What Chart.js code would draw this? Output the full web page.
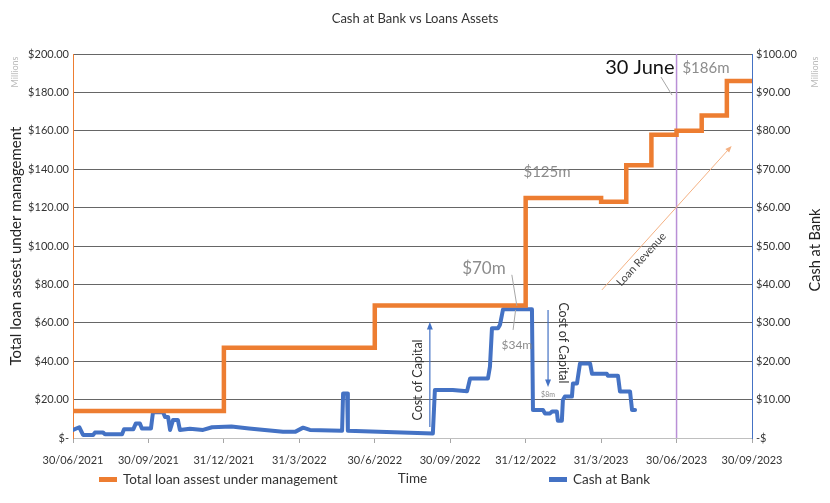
<!DOCTYPE html>
<html>
<head>
<meta charset="utf-8">
<script src="https://cdn.jsdelivr.net/npm/chart.js@4.4.1/dist/chart.umd.min.js"></script>
<style>
  html, body { margin: 0; padding: 0; background: #fff; }
  #wrap { position: relative; width: 830px; height: 503px; }
  #legend { position: absolute; left: 0; top: 470px; width: 830px; height: 18px; font: 13.5px Lato, sans-serif; color: #333; }
  #legend .item { position: absolute; top: 0; white-space: nowrap; line-height: 18px; }
  #legend i { display: inline-block; width: 18px; height: 5px; margin-right: 6px; vertical-align: middle; position: relative; top: -1px; }
</style>
</head>
<body>
<div id="wrap">
  <canvas id="cash-loans-chart" width="830" height="503"></canvas>
  <div id="legend"></div>
</div>
<script>
const quarterLabels = ['30/06/2021', '30/09/2021', '31/12/2021', '31/3/2022', '30/6/2022',
  '30/09/2022', '31/12/2022', '31/3/2023', '30/06/2023', '30/09/2023']

// months after 30/06/2021 where the loan book steps up, and the new level ($m)
const loanMonths = [0, 6, 12, 18, 21, 22, 23, 24, 25, 26, 27]
const loanValues = [14, 47, 69, 125, 123, 142, 158, 160, 168, 186, 186]

// cash at bank ($m)
const cashMonths = [0, 0.25, 0.4, 0.8, 0.87, 1.2, 1.27, 1.95, 2.03, 2.4, 2.5, 2.66, 2.74, 3.1, 3.18, 3.58,
  3.66, 3.78, 3.86, 3.98, 4.17, 4.25, 4.65, 5.17, 5.53, 6.3, 7.0, 8.35, 8.83, 9.15, 9.42, 10.7,
  10.74, 10.9, 10.93, 14.31, 14.39, 15.1, 15.67, 15.79, 16.5, 16.58, 16.66, 16.9, 16.98, 17.1, 18.25,
  18.29, 18.69, 18.77, 18.97, 19.05, 19.24, 19.28, 19.44, 19.48, 19.56, 19.84, 19.88, 20.04, 20.16,
  20.56, 20.64, 21.23, 21.27, 21.67, 21.75, 22.15, 22.23, 22.35]
const cashValues = [2.1, 2.8, 0.8, 0.8, 1.4, 1.4, 1.0, 1.0, 2.3, 2.3, 3.8, 3.8, 2.5, 2.5, 6.7, 6.7,
  5.5, 5.5, 2.1, 4.7, 4.7, 2.1, 2.4, 2.1, 2.8, 3.0, 2.5, 1.6, 1.6, 2.7, 2.1, 1.9,
  11.6, 11.6, 1.9, 1.2, 12.5, 12.5, 12.2, 15.5, 15.5, 18.6, 28.6, 28.6, 29.5, 33.5, 33.5,
  7.3, 7.3, 6.4, 6.4, 6.9, 6.9, 4.5, 4.5, 9.9, 10.8, 10.8, 14.2, 14.2, 19.4,
  19.4, 16.7, 16.7, 16.2, 16.2, 12.1, 12.1, 7.3, 7.3]

const juneMarker = 24

const orange = '#ED7D31'
const blue = '#4472C4'
const textColor = '#333'

Chart.defaults.font.family = 'Lato'

function toPoints(xs, ys) {
  return ys.map((v, i) => ({ x: xs[i], y: v }))
}

function drawText(ctx, text, x, y, font, color, rot) {
  ctx.save()
  ctx.translate(x, y)
  ctx.rotate(rot || 0)
  ctx.font = font
  ctx.fillStyle = color
  ctx.textAlign = 'center'
  ctx.textBaseline = 'middle'
  ctx.fillText(text, 0, 0)
  ctx.restore()
}

function drawLine(ctx, a, b, color, width) {
  ctx.save()
  ctx.strokeStyle = color
  ctx.lineWidth = width
  ctx.beginPath()
  ctx.moveTo(a.x, a.y)
  ctx.lineTo(b.x, b.y)
  ctx.stroke()
  ctx.restore()
}

function drawArrow(ctx, a, b, color, width, head) {
  const ang = Math.atan2(b.y - a.y, b.x - a.x)
  drawLine(ctx, a, { x: b.x - head * 0.8 * Math.cos(ang), y: b.y - head * 0.8 * Math.sin(ang) }, color, width)
  ctx.save()
  ctx.fillStyle = color
  ctx.beginPath()
  ctx.moveTo(b.x, b.y)
  ctx.lineTo(b.x - head * Math.cos(ang - 0.38), b.y - head * Math.sin(ang - 0.38))
  ctx.lineTo(b.x - head * Math.cos(ang + 0.38), b.y - head * Math.sin(ang + 0.38))
  ctx.closePath()
  ctx.fill()
  ctx.restore()
}

// callouts, positioned in (months, loan $m) units
const notesPlugin = {
  id: 'notes',
  beforeDatasetsDraw(chart) {
    const { ctx, chartArea, scales } = chart
    const px = scales.x.getPixelForValue(juneMarker)
    drawLine(ctx, { x: px, y: chartArea.top }, { x: px, y: chartArea.bottom }, '#b98fd6', 1.5)
  },
  afterDraw(chart) {
    const { ctx, scales } = chart
    const at = (m, v) => ({ x: scales.x.getPixelForValue(m), y: scales.yLoan.getPixelForValue(v) })
    const grey = '#8c8c8c'

    let p = at(16.34, 88.5)
    drawText(ctx, '$70m', p.x, p.y, '17px Lato', grey)
    drawLine(ctx, at(17.45, 85), at(17.65, 68.8), '#a6a6a6', 1)

    p = at(17.65, 48.4)
    drawText(ctx, '$34m', p.x, p.y, '12px Lato', grey)
    drawLine(ctx, at(17.5, 56.3), at(17.6, 66.7), '#a6a6a6', 1)

    p = at(18.85, 138.5)
    drawText(ctx, '$125m', p.x, p.y, '15px Lato', grey)

    p = at(22.54, 193.2)
    drawText(ctx, '30 June', p.x, p.y, '20px Lato', '#111')
    p = at(25.17, 192.7)
    drawText(ctx, '$186m', p.x, p.y, '15px Lato', grey)
    drawLine(ctx, at(23.38, 188), at(23.82, 178.6), '#a6a6a6', 1)

    drawArrow(ctx, at(21.03, 77.1), at(26.19, 152.1), '#f4b183', 1, 7)
    p = at(22.6, 93)
    drawText(ctx, 'Loan Revenue', p.x, p.y, '11px Lato', '#444', -47.9 * Math.PI / 180)

    p = at(13.72, 30.2)
    drawText(ctx, 'Cost of Capital', p.x, p.y, '12.5px Lato', textColor, -Math.PI / 2)
    drawArrow(ctx, at(14.19, 5.7), at(14.19, 60.4), blue, 1.2, 8)

    p = at(19.48, 49.5)
    drawText(ctx, 'Cost of Capital', p.x, p.y, '12.5px Lato', textColor, Math.PI / 2)
    drawArrow(ctx, at(18.89, 66.7), at(18.89, 26.6), blue, 1.2, 8)

    p = at(18.89, 22.4)
    drawText(ctx, '$8m', p.x, p.y, '7px Lato', grey)

    // side captions
    drawText(ctx, 'Millions', 15, 72, '9px Lato', '#bbb', -Math.PI / 2)
    drawText(ctx, 'Millions', 815, 72, '9px Lato', '#bbb', -Math.PI / 2)
    drawText(ctx, 'Cash at Bank', 815, 250, '14.5px Lato', '#222', -Math.PI / 2)
  }
}

const chartConfig = {
  type: 'line',
  data: {
    datasets: [{
      label: 'Total loan assest under management',
      data: toPoints(loanMonths, loanValues),
      borderColor: orange,
      backgroundColor: orange,
      borderWidth: 4.5,
      stepped: 'before',
      pointRadius: 0,
      yAxisID: 'yLoan'
    },
    {
      label: 'Cash at Bank',
      data: toPoints(cashMonths, cashValues),
      borderColor: blue,
      backgroundColor: blue,
      borderWidth: 4,
      borderJoinStyle: 'round',
      borderCapStyle: 'round',
      pointRadius: 0,
      yAxisID: 'yCash'
    }]
  },
  options: {
    responsive: false,
    animation: false,
    layout: { padding: 0 },
    plugins: {
      legend: { display: false },
      tooltip: { enabled: false },
      title: {
        display: true,
        text: 'Cash at Bank vs Loans Assets',
        color: textColor,
        font: { size: 13, weight: 'normal' },
        padding: { top: 11, bottom: 27.4 }
      }
    },
    scales: {
      x: {
        type: 'linear',
        min: 0,
        max: 27,
        ticks: {
          stepSize: 3,
          autoSkip: false,
          maxRotation: 0,
          padding: 11,
          color: textColor,
          font: { size: 11 },
          callback: function (value) {
            return quarterLabels[value / 3]
          }
        },
        grid: { drawOnChartArea: false, tickLength: 5, color: '#a6a6a6' },
        border: { color: '#bfbfbf' },
        title: {
          display: true,
          text: 'Time',
          color: textColor,
          font: { size: 13.5 },
          padding: { top: 0, bottom: 15.9 }
        },
        afterFit: function (scale) { scale.height = 65 }
      },
      yLoan: {
        type: 'linear',
        position: 'left',
        min: 0,
        max: 200,
        ticks: {
          stepSize: 20,
          padding: 4,
          color: textColor,
          font: { size: 11 },
          callback: function (value) {
            return value === 0 ? '$-' : '$' + value.toFixed(2)
          }
        },
        grid: { color: '#666', drawTicks: false },
        border: { color: orange },
        title: {
          display: true,
          text: 'Total loan assest under management',
          color: '#222',
          font: { size: 15 },
          padding: { top: 7, bottom: 0 }
        },
        afterFit: function (scale) { scale.width = 73 }
      },
      yCash: {
        type: 'linear',
        position: 'right',
        min: 0,
        max: 100,
        ticks: {
          stepSize: 10,
          padding: 4,
          color: textColor,
          font: { size: 11 },
          callback: function (value) {
            return value === 0 ? '-$' : '$' + value.toFixed(2)
          }
        },
        grid: { drawOnChartArea: false, drawTicks: false },
        border: { color: blue },
        afterFit: function (scale) { scale.width = 78 }
      }
    }
  },
  plugins: [notesPlugin]
}

const chartElement = document.getElementById('cash-loans-chart').getContext('2d')
const cashLoansChart = new Chart(chartElement, chartConfig)

// html legend, one entry per dataset
const legendLeft = [99, 549]
const legendBox = document.getElementById('legend')
cashLoansChart.data.datasets.forEach((ds, i) => {
  const item = document.createElement('span')
  item.className = 'item'
  item.style.left = legendLeft[i] + 'px'
  const swatch = document.createElement('i')
  swatch.style.background = ds.borderColor
  item.appendChild(swatch)
  item.appendChild(document.createTextNode(ds.label))
  legendBox.appendChild(item)
})
</script>
</body>
</html>
